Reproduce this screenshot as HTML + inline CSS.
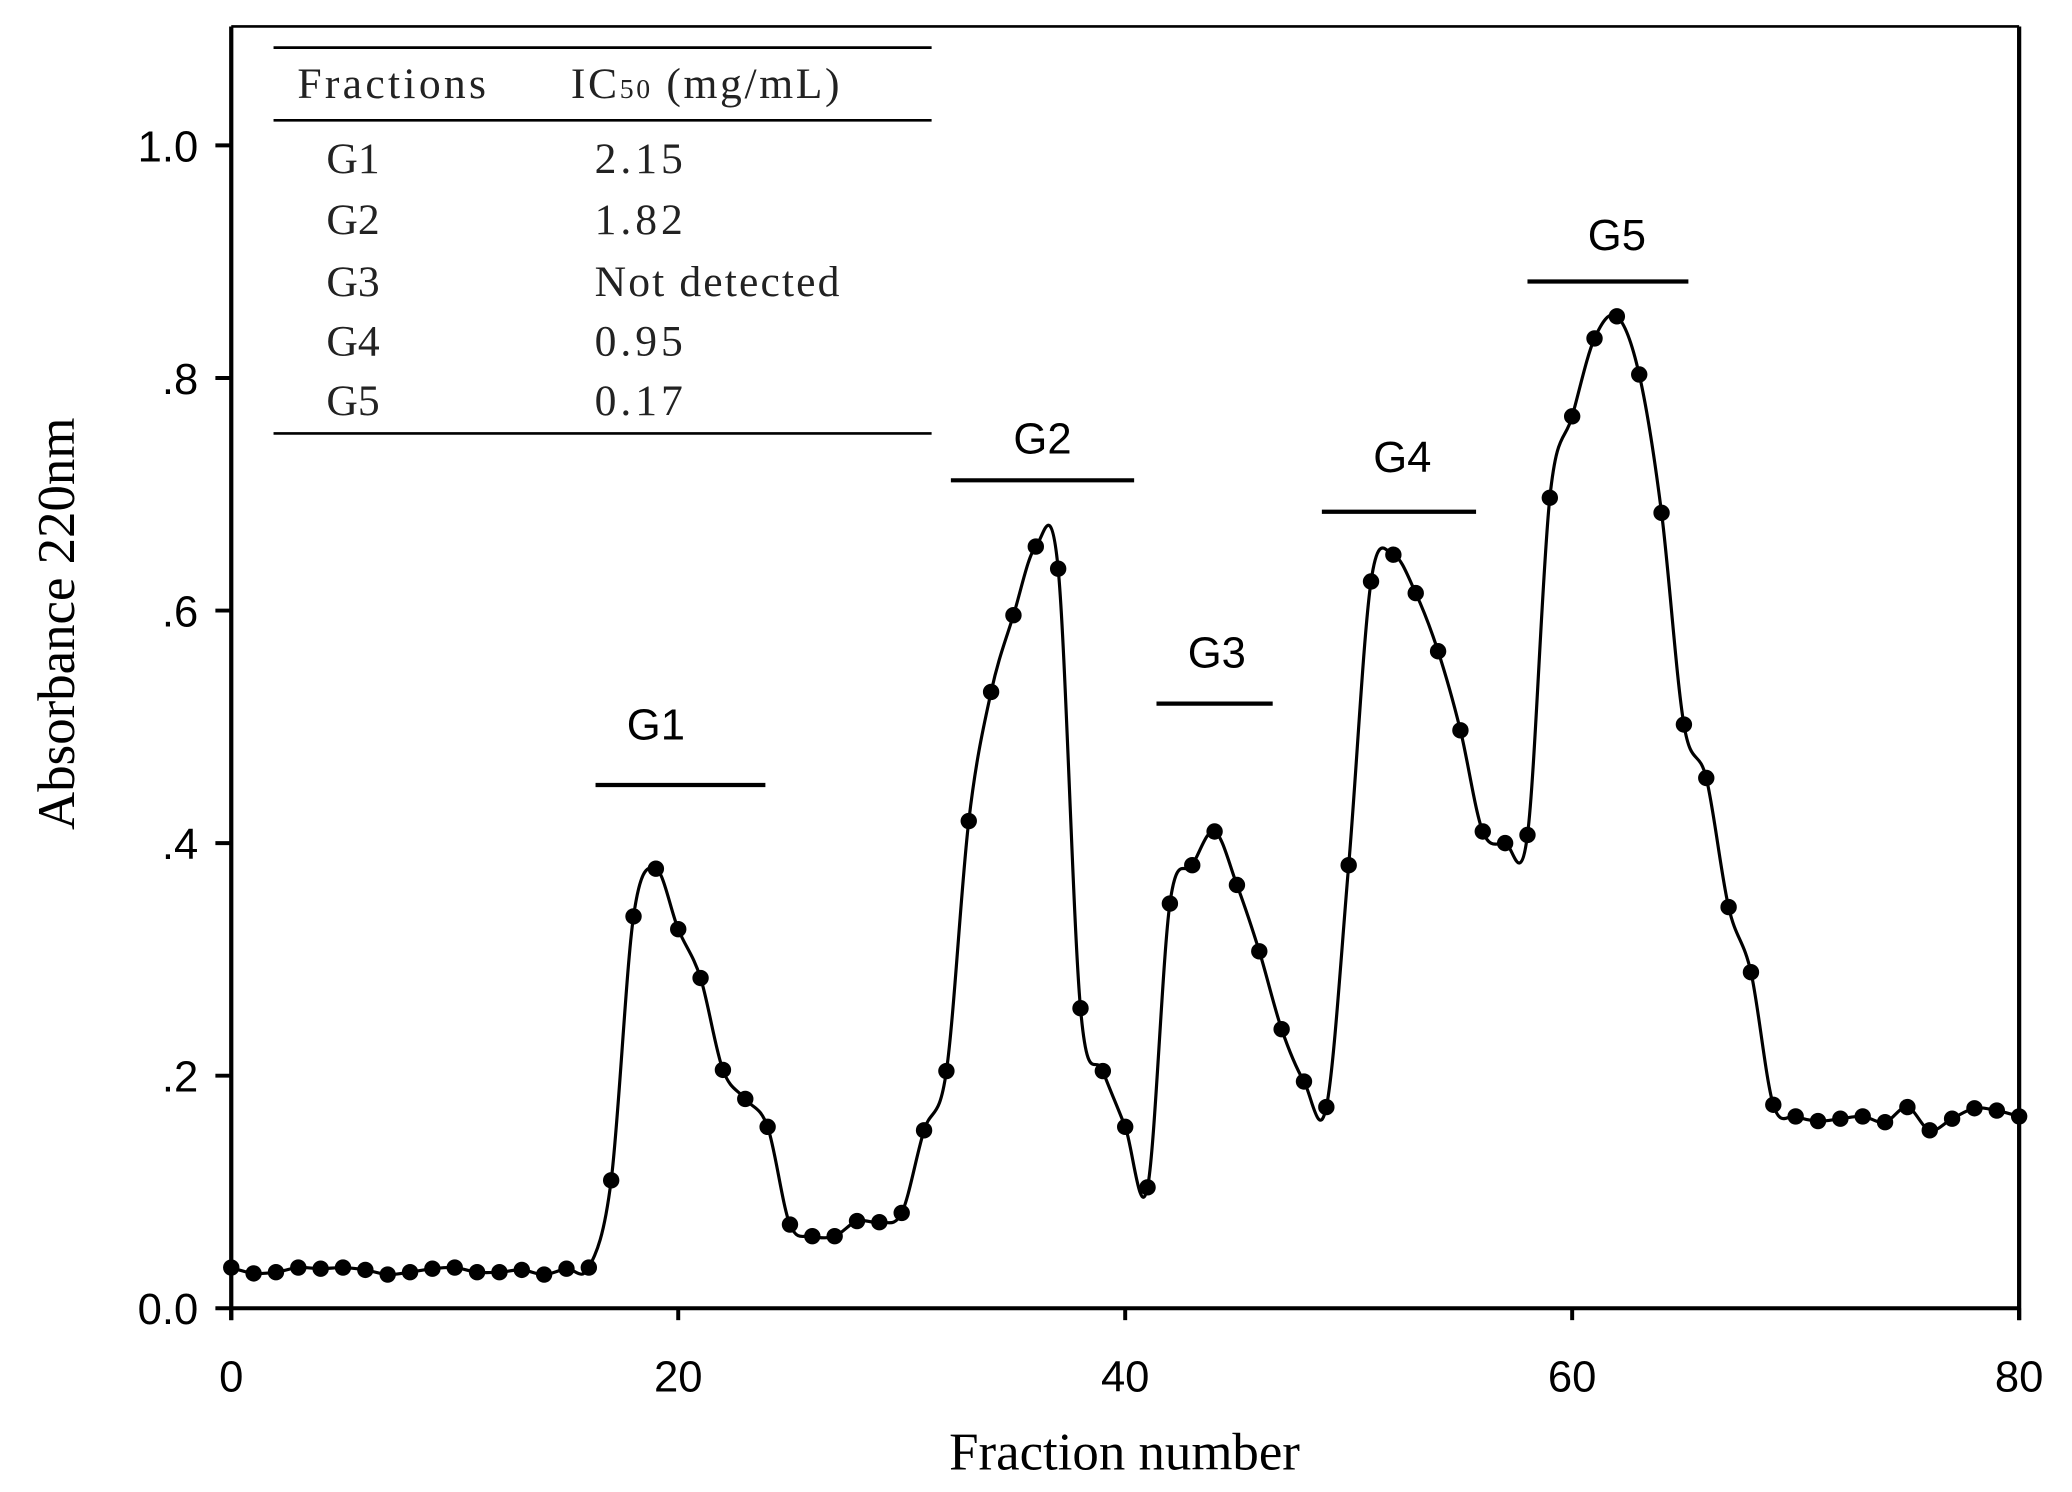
<!DOCTYPE html>
<html><head><meta charset="utf-8"><style>html,body{margin:0;padding:0;background:#fff}svg{display:block}</style></head>
<body>
<svg id="chart" width="2072" height="1492" viewBox="0 0 1568 1129" xmlns="http://www.w3.org/2000/svg">
<rect x="0" y="0" width="1568" height="1129" fill="#fff"/>
<g id="axes"></g>
<g id="series"></g>
<g id="annot"></g>
<g id="table" font-family="'Liberation Serif', serif" font-size="33" fill="#222">
<line x1="207" y1="36" x2="705" y2="36" stroke="#000" stroke-width="2"/>
<line x1="207" y1="91" x2="705" y2="91" stroke="#000" stroke-width="2"/>
<line x1="207" y1="328" x2="705" y2="328" stroke="#000" stroke-width="2"/>
<text x="225" y="74" letter-spacing="2.5">Fractions</text>
<text x="432" y="74" letter-spacing="2">IC<tspan font-size="21">50</tspan> (mg/mL)</text>
<text x="247" y="131">G1</text><text x="450" y="131" letter-spacing="3">2.15</text>
<text x="247" y="177">G2</text><text x="450" y="177" letter-spacing="3">1.82</text>
<text x="247" y="224">G3</text><text x="450" y="224" letter-spacing="1.6">Not detected</text>
<text x="247" y="269">G4</text><text x="450" y="269" letter-spacing="3">0.95</text>
<text x="247" y="314">G5</text><text x="450" y="314" letter-spacing="3">0.17</text>
</g>
</svg>
<script>
const fractions = [];
for (let i = 0; i <= 80; i++) fractions.push(i);
const absorbance = [0.035,0.030,0.031,0.035,0.034,0.035,0.033,0.029,0.031,0.034,
0.035,0.031,0.031,0.033,0.029,0.034,0.035,0.110,0.337,0.378,
0.326,0.284,0.205,0.180,0.156,0.072,0.062,0.062,0.075,0.074,
0.082,0.153,0.204,0.419,0.530,0.596,0.655,0.636,0.258,0.204,
0.156,0.104,0.348,0.381,0.410,0.364,0.307,0.240,0.195,0.173,
0.381,0.625,0.648,0.615,0.565,0.497,0.410,0.400,0.407,0.697,
0.767,0.834,0.853,0.803,0.684,0.502,0.456,0.345,0.289,0.175,
0.165,0.161,0.163,0.165,0.160,0.173,0.153,0.163,0.172,0.170,0.165];
const yTicks = [0, 0.2, 0.4, 0.6, 0.8, 1.0];
const yTickLabels = ["0.0", ".2", ".4", ".6", ".8", "1.0"];
const xTicks = [0, 20, 40, 60, 80];
const groupNames = ["G1","G2","G3","G4","G5"];
const groupStart = [16.3, 32.2, 41.4, 48.8, 58.0];
const groupEnd = [23.9, 40.4, 46.6, 55.7, 65.2];
const groupLevel = [0.45, 0.712, 0.52, 0.685, 0.883];
const groupLabelX = [19.0, 36.3, 44.1, 52.4, 62.0];
const groupLabelY = [0.489, 0.735, 0.551, 0.719, 0.910];

const NS = "http://www.w3.org/2000/svg";
const X0 = 175, X1 = 1528, Y0 = 990, Y1 = 110;
const sx = v => X0 + (v - 0) / 80 * (X1 - X0);
const sy = v => Y0 - v * (Y0 - Y1);
function mk(tag, attrs, parent) {
  const e = document.createElementNS(NS, tag);
  for (const k in attrs) e.setAttribute(k, attrs[k]);
  parent.appendChild(e);
  return e;
}
const axes = document.getElementById('axes');
const topL = mk('line', {x1: X0, y1: 20, x2: X1, y2: 20, stroke: '#000', 'stroke-width': 2}, axes);


const leftL = mk('line', {x1: X0, y1: 20, x2: X0, y2: 999, stroke: '#000', 'stroke-width': 3.2}, axes);


const botL = mk('line', {x1: X0 - 12, y1: Y0, x2: X1, y2: Y0, stroke: '#000', 'stroke-width': 3}, axes);


const rightL = mk('line', {x1: X1, y1: 20, x2: X1, y2: 999, stroke: '#000', 'stroke-width': 3.2}, axes);


yTicks.forEach((t, i) => {
  if (t > 0) mk('line', {x1: X0 - 12, y1: sy(t), x2: X0, y2: sy(t), stroke: '#000', 'stroke-width': 3}, axes);
  const tx = mk('text', {x: 150, y: sy(t) + 12, 'text-anchor': 'end', 'font-family': "'Liberation Sans', sans-serif", 'font-size': 33}, axes);
  tx.textContent = yTickLabels[i];
  
  
});
xTicks.forEach(t => {
  mk('line', {x1: sx(t), y1: Y0, x2: sx(t), y2: Y0 + 9, stroke: '#000', 'stroke-width': 3}, axes);
  const tx = mk('text', {x: sx(t), y: 1053, 'text-anchor': 'middle', 'font-family': "'Liberation Sans', sans-serif", 'font-size': 33}, axes);
  tx.textContent = t;
  
  
});
const xt = mk('text', {x: 851, y: 1112, 'text-anchor': 'middle', 'font-family': "'Liberation Serif', serif", 'font-size': 40}, axes);
xt.textContent = 'Fraction number';


const yt = mk('text', {x: 0, y: 0, transform: 'translate(56,472) rotate(-90)', 'text-anchor': 'middle', 'font-family': "'Liberation Serif', serif", 'font-size': 40}, axes);
yt.textContent = 'Absorbance 220nm';



const series = document.getElementById('series');
const pts = fractions.map((f, i) => [sx(f), sy(absorbance[i])]);
let d = 'M' + pts[0][0] + ',' + pts[0][1];
for (let i = 0; i < pts.length - 1; i++) {
  const p0 = pts[Math.max(0, i - 1)], p1 = pts[i], p2 = pts[i + 1], p3 = pts[Math.min(pts.length - 1, i + 2)];
  const c1 = [p1[0] + (p2[0] - p0[0]) / 6, p1[1] + (p2[1] - p0[1]) / 6];
  const c2 = [p2[0] - (p3[0] - p1[0]) / 6, p2[1] - (p3[1] - p1[1]) / 6];
  d += ' C' + c1[0] + ',' + c1[1] + ' ' + c2[0] + ',' + c2[1] + ' ' + p2[0] + ',' + p2[1];
}
const line = mk('path', {d: d, fill: 'none', stroke: '#000', 'stroke-width': 2.4}, series);


pts.forEach(p => {
  const c = mk('circle', {cx: p[0], cy: p[1], r: 6.2, fill: '#000'}, series);
  
  
});

const annot = document.getElementById('annot');
groupNames.forEach((g, i) => {
  const b = mk('line', {x1: sx(groupStart[i]), y1: sy(groupLevel[i]), x2: sx(groupEnd[i]), y2: sy(groupLevel[i]), stroke: '#000', 'stroke-width': 3.2}, annot);
  
  
  const t = mk('text', {x: sx(groupLabelX[i]), y: sy(groupLabelY[i]), 'text-anchor': 'middle', 'font-family': "'Liberation Sans', sans-serif", 'font-size': 33}, annot);
  t.textContent = g;
  
  
});
</script>
</body></html>
